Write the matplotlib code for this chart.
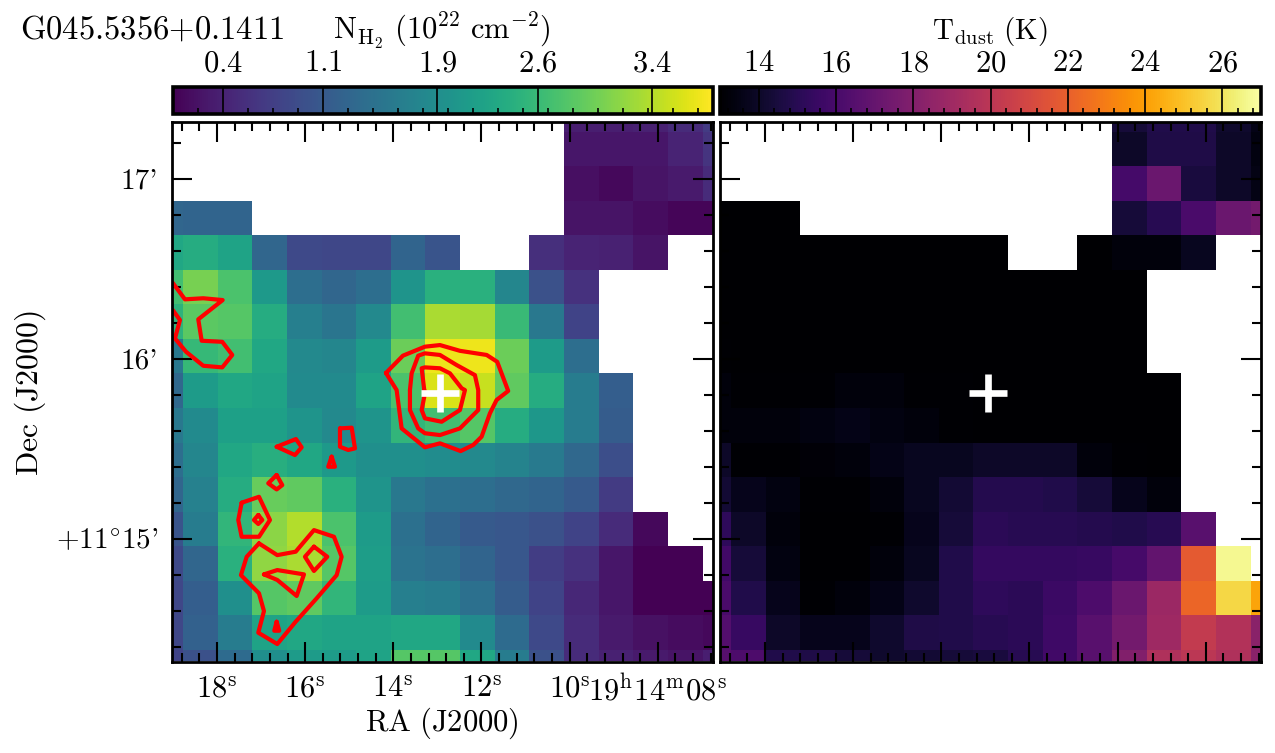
import numpy as np
import matplotlib
matplotlib.use('Agg')
import matplotlib.pyplot as plt
from matplotlib.ticker import MultipleLocator

plt.rcParams['font.family'] = 'cmr10'
plt.rcParams['mathtext.fontset'] = 'cm'
plt.rcParams['axes.unicode_minus'] = False
plt.rcParams['axes.formatter.use_mathtext'] = True

n = np.nan

# column density, 10^22 cm^-2, rows top to bottom
nh2 = [
    [n, n, n, n, n, n, n, n, n, n, n, n, .36, .36, .40, .51, .70],
    [n, n, n, n, n, n, n, n, n, n, n, n, .28, .28, .28, .43, .62],
    [n, n, n, n, n, n, n, n, n, n, n, n, .20, .13, .25, .32, .51],
    [1.29, 1.26, 1.26, n, n, n, n, n, n, n, n, n, .25, .25, .17, .10, .10],
    [2.30, 2.38, 2.23, 1.29, .88, .85, .85, 1.26, 1.03, n, n, .55, .43, .40, .25, n, n],
    [2.68, 3.05, 2.75, 2.08, 1.41, 1.29, 1.41, 2.0, 2.45, 2.45, 1.78, .99, .58, n, n, n, n],
    [2.49, 2.87, 2.83, 2.38, 1.67, 1.52, 1.82, 2.68, 3.35, 3.31, 2.60, 1.56, .81, n, n, n, n],
    [1.56, 2.57, 2.68, 2.30, 1.82, 1.78, 2.12, 2.98, 3.73, 3.73, 2.98, 2.12, 1.41, n, n, n, n],
    [1.33, 2.12, 2.30, 2.23, 1.86, 1.86, 2.23, 2.75, 3.61, 3.5, 2.90, 2.38, 1.63, 1.18, n, n, n],
    [1.56, 1.86, 2.19, 2.19, 2.0, 1.82, 2.0, 2.53, 2.68, 2.83, 2.38, 2.04, 1.63, 1.14, n, n, n],
    [1.41, 1.78, 2.30, 2.42, 2.30, 2.08, 1.93, 1.93, 1.89, 1.82, 1.74, 1.59, 1.33, .96, n, n, n],
    [1.29, 1.71, 2.38, 2.94, 2.90, 2.45, 2.0, 1.56, 1.44, 1.41, 1.33, 1.26, 1.11, .70, n, n, n],
    [1.03, 1.63, 2.53, 3.16, 3.39, 2.75, 2.12, 1.44, 1.26, 1.11, 1.07, .99, .81, .51, .13, n, n],
    [.88, 1.29, 2.45, 3.2, 3.35, 2.83, 2.15, 1.48, 1.41, 1.26, 1.07, .73, .58, .28, .06, .06, n],
    [.85, 1.18, 1.93, 2.83, 2.90, 2.53, 2.12, 1.67, 1.63, 1.44, 1.14, .81, .47, .28, .06, .06, .06],
    [.85, 1.22, 1.63, 2.23, 2.30, 2.23, 2.23, 2.30, 2.30, 1.86, 1.37, .88, .51, .32, .21, .17, .13],
    [.81, .99, 1.37, 1.93, 2.12, 2.12, 2.23, 2.83, 2.83, 2.30, 1.63, .99, .51, .40, .32, .25, .36],
]

# dust temperature, K
tdust = [
    [n, n, n, n, n, n, n, n, n, n, n, n, 14.4, 14.8, 14.8, 14.1, 13.6],
    [n, n, n, n, n, n, n, n, n, n, n, n, 14.0, 14.7, 14.7, 14.0, 13.4],
    [n, n, n, n, n, n, n, n, n, n, n, n, 15.9, 17.2, 14.5, 14.0, 13.5],
    [13, 13, 13, n, n, n, n, n, n, n, n, n, 14.4, 15, 16.1, 17.2, 17.5],
    [13, 13, 13, 13, 13, 13, 13, 13, 13, n, n, 13, 13.3, 13.3, 13.8, n, n],
    [13, 13, 13, 13, 13, 13, 13, 13, 13, 13, 13, 13, 13, n, n, n, n],
    [13, 13, 13, 13, 13, 13, 13, 13, 13, 13, 13, 13, 13, n, n, n, n],
    [13.1, 13, 13, 13, 13, 13, 13, 13, 13, 13, 13, 13, 13, n, n, n, n],
    [13.3, 13.1, 13.1, 13.1, 13.3, 13.3, 13.1, 13.1, 13, 13, 13, 13, 13, 13, n, n, n],
    [13.3, 13.3, 13.3, 13.4, 13.6, 13.4, 13.3, 13.1, 13, 13, 13, 13, 13, 13, n, n, n],
    [14.0, 13.1, 13.1, 13.2, 13.3, 13.6, 13.8, 13.8, 14, 14, 14, 13.3, 13.1, 13, n, n, n],
    [14.3, 13.7, 13.4, 13.1, 13.1, 13.3, 13.8, 14.3, 14.9, 14.9, 14.8, 14.4, 13.7, 13.3, n, n, n],
    [15.2, 14, 13.3, 13, 13, 13.1, 13.7, 14.4, 15.1, 15.0, 15.0, 14.9, 14.8, 15, 16.6, n, n],
    [15.8, 14.4, 13.4, 13, 13, 13.3, 13.8, 14.8, 15.4, 15.4, 15.4, 15.5, 16.0, 16.9, 21.8, 26.7, n],
    [16.1, 14.8, 13.7, 13.1, 13.3, 13.6, 14.1, 14.8, 15.2, 15.1, 15.6, 16.2, 17.2, 18.9, 22.2, 25.6, 24.2],
    [16.4, 15.5, 14, 13.7, 13.7, 14.1, 14.7, 14.8, 15, 15.1, 15.7, 16.6, 17.5, 19, 20.3, 19.7, 18.3],
    [16.5, 16.2, 14.8, 14.7, 14.4, 14.1, 14.3, 14.4, 14.5, 15, 15.8, 16.6, 18, 19.6, 20, 19.6, 18.3],
]

# contours, (RA seconds after 19h14m, Dec arcmin after +11 deg)
contours = [
    ([19.005, 18.726, 18.311, 17.871, 18.424, 18.347, 17.880, 17.653, 17.880, 18.311, 18.703, 18.953, 18.839, 19.005],
     [16.422, 16.330, 16.336, 16.326, 16.219, 16.100, 16.094, 16.021, 15.952, 15.961, 16.039, 16.113, 16.215, 16.271]),
    ([14.167, 13.782, 13.283, 12.942, 12.489, 11.883, 11.643, 11.394, 11.657, 11.808, 11.997, 12.187, 12.473, 12.942, 13.283, 13.811, 13.925, 14.167],
     [15.921, 16.017, 16.067, 16.076, 16.044, 16.021, 15.983, 15.821, 15.771, 15.697, 15.567, 15.521, 15.487, 15.530, 15.508, 15.613, 15.826, 15.921]),
    ([13.623, 13.584, 13.435, 13.283, 12.942, 12.564, 12.149, 12.074, 12.074, 12.489, 12.942, 13.283, 13.435, 13.623, 13.623],
     [15.826, 15.919, 16.017, 16.030, 16.021, 15.965, 15.909, 15.826, 15.715, 15.613, 15.576, 15.586, 15.613, 15.715, 15.826]),
    ([13.298, 13.357, 13.283, 12.942, 12.716, 12.450, 12.375, 12.489, 12.904, 13.283, 13.357, 13.298, 13.298],
     [15.826, 15.947, 15.952, 15.947, 15.919, 15.836, 15.826, 15.715, 15.650, 15.669, 15.715, 15.789, 15.826]),
    ([15.210, 14.945, 14.870, 15.022, 15.210, 15.210],
     [15.613, 15.617, 15.502, 15.493, 15.511, 15.613]),
    ([16.646, 16.208, 16.079, 16.231, 16.646],
     [15.511, 15.554, 15.508, 15.465, 15.511]),
    ([15.399, 15.324, 15.476, 15.399],
     [15.456, 15.400, 15.400, 15.456]),
    ([16.646, 16.519, 16.646, 16.837, 16.646],
     [15.354, 15.298, 15.274, 15.308, 15.354]),
    ([17.440, 17.047, 16.798, 17.047, 17.440, 17.517, 17.440],
     [15.200, 15.233, 15.104, 15.011, 15.011, 15.104, 15.200]),
    ([17.063, 16.973, 17.063, 17.161, 17.063],
     [15.132, 15.104, 15.082, 15.104, 15.132]),
    ([17.047, 16.632, 16.215, 15.800, 15.346, 15.172, 15.285, 15.739, 16.215, 16.632, 17.063, 16.934, 17.047, 17.456, 17.326, 17.047],
     [14.974, 14.909, 14.928, 15.048, 15.011, 14.900, 14.798, 14.669, 14.539, 14.415, 14.478, 14.598, 14.697, 14.798, 14.900, 14.974]),
    ([15.800, 15.498, 15.800, 16.004, 15.800],
     [14.956, 14.900, 14.821, 14.900, 14.956]),
    ([16.934, 16.632, 16.027, 16.192, 16.632, 16.934],
     [14.802, 14.826, 14.802, 14.682, 14.771, 14.802]),
    ([16.646, 16.587, 16.700, 16.646],
     [14.539, 14.489, 14.489, 14.539]),
]

source_ra = 12.942
source_dec = 15.809

ra_ticks = [18, 16, 14, 12, 10, 8]
ra_labels = [r'$18^{\mathrm{s}}$', r'$16^{\mathrm{s}}$', r'$14^{\mathrm{s}}$', r'$12^{\mathrm{s}}$',
             r'$10^{\mathrm{s}}$', r'$19^{\mathrm{h}}14^{\mathrm{m}}08^{\mathrm{s}}$']
dec_ticks = [17, 16, 15]
dec_labels = ["17'", "16'", r"$+11^{\circ}15$'"]

nh2_ticks = [0.4, 1.1, 1.9, 2.6, 3.4]
nh2_minor = np.arange(0.225, 3.8, 0.175)
t_ticks = [14, 16, 18, 20, 22, 24, 26]
t_minor = np.arange(13.2, 27, 0.4)

W, H = 1275, 753
FS = 22


def box(x0, y0, x1, y1):
    return [x0 / W, 1 - y1 / H, (x1 - x0) / W, (y1 - y0) / H]


fig = plt.figure(figsize=(W / 100, H / 100), dpi=100)
ax1 = fig.add_axes(box(172, 121.5, 712.5, 661.5))
ax2 = fig.add_axes(box(720, 121.5, 1260.5, 661.5))
cax1 = fig.add_axes(box(172.5, 87, 712.5, 113.5))
cax2 = fig.add_axes(box(720, 87, 1261, 113.5))

extent = [19.555, 6.21, 14.187, 17.451]
im1 = ax1.imshow(np.array(nh2), cmap='viridis', vmin=0.047, vmax=3.823, extent=extent,
                 aspect='auto', interpolation='nearest')
im2 = ax2.imshow(np.array(tdust), cmap='inferno', vmin=13, vmax=27, extent=extent,
                 aspect='auto', interpolation='nearest')

for xs, ys in contours:
    ax1.plot(xs, ys, color='red', lw=3.0, solid_joinstyle='round', solid_capstyle='round')

for ax in [ax1, ax2]:
    ax.plot(source_ra, source_dec, marker='+', color='white', ms=27, mew=4.8)
    ax.set_xlim(19.02, 6.76)
    ax.set_ylim(14.318, 17.318)
    ax.set_xticks(ra_ticks)
    ax.set_yticks(dec_ticks)
    ax.xaxis.set_minor_locator(MultipleLocator(0.4))
    ax.yaxis.set_minor_locator(MultipleLocator(0.2))
    ax.tick_params(which='both', direction='in', top=True, right=True, width=1.5, colors='black')
    ax.tick_params(which='major', length=14.5, pad=10)
    ax.tick_params(which='minor', length=6.5)
    for s in ax.spines.values():
        s.set_linewidth(2)

ax1.set_xticklabels(ra_labels, fontsize=FS)
ax1.set_yticklabels(dec_labels, fontsize=21)
ax2.set_xticklabels([])
ax2.set_yticklabels([])

cb1 = fig.colorbar(im1, cax=cax1, orientation='horizontal')
cb2 = fig.colorbar(im2, cax=cax2, orientation='horizontal')
for cb, ticks, minor in [(cb1, nh2_ticks, nh2_minor), (cb2, t_ticks, t_minor)]:
    cb.set_ticks(ticks)
    cb.ax.set_xticklabels([r'$\mathrm{%s}$' % t for t in ticks], fontsize=FS)
    cb.ax.set_xticks(minor, minor=True)
    cb.ax.tick_params(which='major', direction='in', length=20, width=1.2, top=True, bottom=False,
                      labeltop=True, labelbottom=False, pad=7)
    cb.ax.tick_params(which='minor', direction='in', length=4.5, width=1.2, top=False, bottom=True)
    cb.outline.set_linewidth(2.6)

fig.text(442 / W, 1 - 723 / H, r'$\mathrm{RA\ (J2000)}$', fontsize=FS, ha='center', va='center')
fig.text(30 / W, 1 - 393 / H, r'$\mathrm{Dec\ (J2000)}$', fontsize=23, ha='center', va='center', rotation=90)
fig.text(20 / W, 1 - 30 / H, r'$\mathrm{G045.5356{+}0.1411}$', fontsize=23.5, ha='left', va='center')
fig.text(442 / W, 1 - 31 / H, r'$\mathrm{N_{H_2}\ (10^{22}\ cm^{-2})}$', fontsize=FS, ha='center', va='center')
fig.text(990 / W, 1 - 31 / H, r'$\mathrm{T_{dust}\ (K)}$', fontsize=21, ha='center', va='center')

fig.savefig('out.png', dpi=100)
